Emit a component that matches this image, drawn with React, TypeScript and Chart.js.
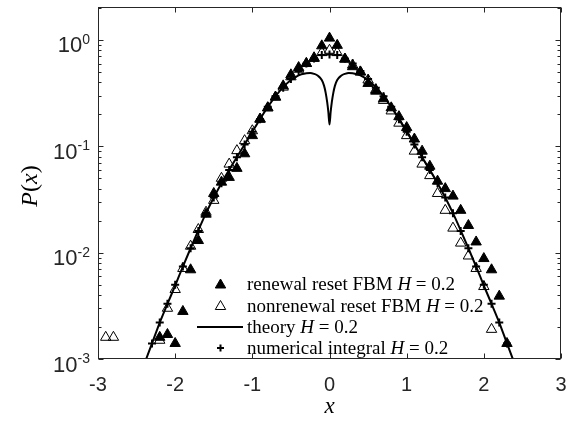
import React, { useEffect, useRef } from 'react';
import { Chart, registerables } from 'chart.js';

Chart.register(...registerables);

// ---- data ----
const renewalX = [-2.2, -2.1, -2.0, -1.9, -1.8, -1.7, -1.6, -1.5, -1.4, -1.3, -1.2, -1.1, -1.0, -0.9, -0.8, -0.7, -0.6, -0.5, -0.4, -0.3, -0.2, -0.1, 0, 0.1, 0.2, 0.3, 0.4, 0.5, 0.6, 0.7, 0.8, 0.9, 1.0, 1.1, 1.2, 1.3, 1.4, 1.5, 1.6, 1.7, 1.8, 1.9, 2.0, 2.1, 2.2, 2.3];
const renewalP = [0.0016, 0.0017, 0.0014, 0.0028, 0.0069, 0.013, 0.023, 0.036, 0.046, 0.051, 0.062, 0.085, 0.126, 0.18, 0.23, 0.29, 0.37, 0.47, 0.55, 0.6, 0.67, 0.88, 1.04, 0.89, 0.66, 0.56, 0.5, 0.39, 0.33, 0.28, 0.23, 0.19, 0.15, 0.117, 0.09, 0.065, 0.047, 0.04, 0.034, 0.025, 0.018, 0.0126, 0.0088, 0.0069, 0.0039, 0.0014];

const nonrenewalX = [-2.9, -2.8, -2.2, -2.1, -2.0, -1.9, -1.8, -1.7, -1.6, -1.5, -1.4, -1.3, -1.2, -1.1, -1.0, -0.9, -0.8, -0.7, -0.6, -0.5, -0.4, -0.3, -0.2, -0.1, 0, 0.1, 0.2, 0.3, 0.4, 0.5, 0.6, 0.7, 0.8, 0.9, 1.0, 1.1, 1.2, 1.3, 1.4, 1.5, 1.6, 1.7, 1.8, 1.9, 2.0, 2.1];
const nonrenewalP = [0.0016, 0.0016, 0.0015, 0.003, 0.0045, 0.0071, 0.0115, 0.0165, 0.024, 0.031, 0.05, 0.068, 0.091, 0.113, 0.14, 0.18, 0.23, 0.29, 0.36, 0.45, 0.53, 0.6, 0.68, 0.76, 0.8, 0.76, 0.66, 0.58, 0.5, 0.42, 0.34, 0.27, 0.215, 0.165, 0.126, 0.09, 0.068, 0.053, 0.036, 0.025, 0.017, 0.0123, 0.0093, 0.0071, 0.0048, 0.0019];

const theoryX = [-2.4, -2.3, -2.2, -2.1, -2.0, -1.9, -1.8, -1.7, -1.6, -1.5, -1.4, -1.3, -1.2, -1.1, -1.0, -0.9, -0.8, -0.7, -0.6, -0.5, -0.4, -0.3, -0.25, -0.2, -0.15, -0.1, -0.07, -0.05, -0.03, -0.015, 0, 0.015, 0.03, 0.05, 0.07, 0.1, 0.15, 0.2, 0.25, 0.3, 0.4, 0.5, 0.6, 0.7, 0.8, 0.9, 1.0, 1.1, 1.2, 1.3, 1.4, 1.5, 1.6, 1.7, 1.8, 1.9, 2.0, 2.1, 2.2, 2.3, 2.4];
const theoryP = [0.0009, 0.0014, 0.0022, 0.0033, 0.0049, 0.0074, 0.011, 0.0162, 0.0235, 0.033, 0.045, 0.06, 0.079, 0.104, 0.137, 0.18, 0.235, 0.295, 0.36, 0.42, 0.465, 0.485, 0.49, 0.48, 0.46, 0.42, 0.37, 0.32, 0.26, 0.21, 0.16, 0.21, 0.26, 0.32, 0.37, 0.42, 0.46, 0.48, 0.49, 0.485, 0.465, 0.42, 0.36, 0.295, 0.235, 0.18, 0.137, 0.104, 0.079, 0.06, 0.045, 0.033, 0.0235, 0.0162, 0.011, 0.0074, 0.0049, 0.0033, 0.0022, 0.0014, 0.0009];

const numericX = [-2.3, -2.2, -2.1, -2.0, -1.9, -1.8, -1.7, -1.6, -1.5, -1.4, -1.3, -1.2, -1.1, -1.0, -0.9, -0.8, -0.7, -0.6, -0.5, -0.4, -0.3, -0.2, -0.1, 0, 0.1, 0.2, 0.3, 0.4, 0.5, 0.6, 0.7, 0.8, 0.9, 1.0, 1.1, 1.2, 1.3, 1.4, 1.5, 1.6, 1.7, 1.8, 1.9, 2.0, 2.1, 2.2, 2.3];
const numericP = [0.0014, 0.0022, 0.0033, 0.005, 0.0074, 0.011, 0.016, 0.0235, 0.033, 0.045, 0.06, 0.079, 0.104, 0.137, 0.18, 0.235, 0.295, 0.355, 0.43, 0.51, 0.6, 0.67, 0.72, 0.73, 0.72, 0.67, 0.6, 0.51, 0.43, 0.355, 0.295, 0.235, 0.18, 0.137, 0.104, 0.079, 0.06, 0.045, 0.033, 0.0235, 0.016, 0.011, 0.0074, 0.005, 0.0033, 0.0022, 0.0014];

const xTicks = [-3, -2, -1, 0, 1, 2, 3];
const yDecades = [-3, -2, -1, 0];
const X_MIN = -3;
const X_MAX = 3;
const Y_MIN = 0.001;
const Y_MAX = 2.04;

const legendLabels = ['renewal reset FBM ', 'nonrenewal reset FBM ', 'theory ', 'numerical integral '];
const legendParam = 'H';
const legendValue = ' = 0.2';
const xTitle = 'x';

const SANS = '"Liberation Sans", Arial, sans-serif';
const SERIF = '"Liberation Serif", "Times New Roman", serif';
const AXIS = '#262626';

const pts = (xs: number[], ys: number[]) => xs.map((x, i) => ({ x, y: ys[i] }));

function tri(ctx: CanvasRenderingContext2D, x: number, y: number, r: number, filled: boolean) {
  ctx.beginPath();
  let a = 0;
  ctx.moveTo(x + Math.sin(a) * r, y - Math.cos(a) * r);
  a += (2 * Math.PI) / 3;
  ctx.lineTo(x + Math.sin(a) * r, y - Math.cos(a) * r);
  a += (2 * Math.PI) / 3;
  ctx.lineTo(x + Math.sin(a) * r, y - Math.cos(a) * r);
  ctx.closePath();
  if (filled) ctx.fill();
  ctx.stroke();
}

function runs(ctx: CanvasRenderingContext2D, x: number, y: number, parts: { t: string; f: string }[]) {
  let cx = x;
  for (const p of parts) {
    ctx.font = p.f;
    ctx.fillText(p.t, cx, y);
    cx += ctx.measureText(p.t).width;
  }
  return cx;
}

function widthOf(ctx: CanvasRenderingContext2D, parts: { t: string; f: string }[]) {
  let w = 0;
  for (const p of parts) {
    ctx.font = p.f;
    w += ctx.measureText(p.t).width;
  }
  return w;
}

const decor = {
  id: 'decor',
  afterDraw(chart: any) {
    const { ctx, chartArea: a, scales } = chart;
    const xs = scales.x;
    const ys = scales.y;
    ctx.save();
    ctx.strokeStyle = AXIS;
    ctx.fillStyle = AXIS;
    ctx.lineWidth = 1;
    const L = Math.round(a.left) + 0.5;
    const R = Math.round(a.right) - 0.5;
    const T = Math.round(a.top) + 0.5;
    const B = Math.round(a.bottom) - 0.5;
    ctx.strokeRect(L, T, R - L, B - T);

    // x ticks
    ctx.beginPath();
    for (const v of xTicks) {
      const px = Math.round(xs.getPixelForValue(v)) + 0.5;
      ctx.moveTo(px, B);
      ctx.lineTo(px, B - 5);
      ctx.moveTo(px, T);
      ctx.lineTo(px, T + 5);
    }
    // y ticks
    for (const k of yDecades) {
      for (let m = 1; m <= 9; m++) {
        const v = m * Math.pow(10, k);
        if (v > Y_MAX) continue;
        const py = Math.round(ys.getPixelForValue(v)) + 0.5;
        const len = m === 1 ? 5 : 3;
        ctx.moveTo(L, py);
        ctx.lineTo(L + len, py);
        ctx.moveTo(R, py);
        ctx.lineTo(R - len, py);
      }
    }
    ctx.stroke();

    // x tick labels
    ctx.font = `20px ${SANS}`;
    ctx.textAlign = 'center';
    ctx.textBaseline = 'alphabetic';
    for (const v of xTicks) {
      ctx.fillText(String(v), xs.getPixelForValue(v), 391);
    }

    // y tick labels 10^k
    ctx.textAlign = 'left';
    for (const k of yDecades) {
      const py = ys.getPixelForValue(Math.pow(10, k));
      const exp = String(k);
      ctx.font = `14px ${SANS}`;
      const ew = ctx.measureText(exp).width;
      ctx.font = `22px ${SANS}`;
      const bw = ctx.measureText('10').width;
      const right = 90;
      ctx.fillText('10', right - ew - bw, py + 12.5);
      ctx.font = `14px ${SANS}`;
      ctx.fillText(exp, right - ew, py + 4);
    }

    // x title
    ctx.fillStyle = '#000';
    ctx.textAlign = 'center';
    ctx.font = `italic 23px ${SERIF}`;
    ctx.fillText(xTitle, (a.left + a.right) / 2, 413);

    // y title P(x)
    ctx.save();
    ctx.translate(37, (a.top + a.bottom) / 2 + 3);
    ctx.rotate(-Math.PI / 2);
    ctx.textAlign = 'left';
    const yparts = [
      { t: 'P', f: `italic 24px ${SERIF}` },
      { t: '(', f: `24px ${SERIF}` },
      { t: 'x', f: `italic 24px ${SERIF}` },
      { t: ')', f: `24px ${SERIF}` },
    ];
    const yw = widthOf(ctx, yparts);
    runs(ctx, -yw / 2, 0, yparts);
    ctx.restore();

    // legend
    const rowsY = [290, 311.5, 333, 354];
    const mx = 220.5;
    ctx.textAlign = 'left';
    ctx.fillStyle = '#000';
    ctx.strokeStyle = '#000';
    legendLabels.forEach((lab, i) => {
      const by = rowsY[i];
      runs(ctx, 247, by, [
        { t: lab, f: `19px ${SERIF}` },
        { t: legendParam, f: `italic 19px ${SERIF}` },
        { t: legendValue, f: `19px ${SERIF}` },
      ]);
      const cy = by - 6;
      if (i === 0) {
        ctx.lineWidth = 1;
        tri(ctx, mx, cy + 1, 6, true);
      } else if (i === 1) {
        ctx.lineWidth = 1;
        tri(ctx, mx, cy + 1, 6, false);
      } else if (i === 2) {
        ctx.lineWidth = 2;
        ctx.beginPath();
        ctx.moveTo(197, cy);
        ctx.lineTo(243, cy);
        ctx.stroke();
      } else {
        ctx.lineWidth = 2;
        ctx.beginPath();
        ctx.moveTo(mx - 3.5, cy);
        ctx.lineTo(mx + 3.5, cy);
        ctx.moveTo(mx, cy - 3.5);
        ctx.lineTo(mx, cy + 3.5);
        ctx.stroke();
      }
    });
    ctx.restore();
  },
};

export default function App() {
  const ref = useRef<HTMLCanvasElement | null>(null);
  useEffect(() => {
    if (!ref.current) return;
    const chart = new Chart(ref.current, {
      type: 'scatter',
      data: {
        datasets: [
          {
            label: 'numerical integral H = 0.2',
            data: pts(numericX, numericP),
            pointStyle: 'cross',
            pointRadius: 4,
            borderColor: '#000',
            backgroundColor: '#000',
            borderWidth: 2,
            showLine: false,
          },
          {
            label: 'theory H = 0.2',
            data: pts(theoryX, theoryP),
            showLine: true,
            pointRadius: 0,
            borderColor: '#000',
            borderWidth: 2,
            cubicInterpolationMode: 'monotone',
          },
          {
            label: 'renewal reset FBM H = 0.2',
            data: pts(renewalX, renewalP),
            pointStyle: 'triangle',
            pointRadius: 6,
            borderColor: '#000',
            backgroundColor: '#000',
            borderWidth: 1,
            showLine: false,
          },
          {
            label: 'nonrenewal reset FBM H = 0.2',
            data: pts(nonrenewalX, nonrenewalP),
            pointStyle: 'triangle',
            pointRadius: 6,
            borderColor: '#000',
            backgroundColor: 'rgba(255,255,255,0)',
            borderWidth: 1,
            showLine: false,
          },
        ],
      } as any,
      options: {
        animation: false,
        responsive: false,
        layout: { padding: { left: 98, top: 6, right: 16, bottom: 64 } },
        plugins: { legend: { display: false }, tooltip: { enabled: false } },
        events: [],
        scales: {
          x: { type: 'linear', min: X_MIN, max: X_MAX, display: false },
          y: { type: 'logarithmic', min: Y_MIN, max: Y_MAX, display: false },
        },
      } as any,
      plugins: [decor],
    });
    return () => chart.destroy();
  }, []);
  return (
    <div style={{ position: 'fixed', left: 0, top: 0, width: 577, height: 423, background: '#fff' }}>
      <canvas ref={ref} width={577} height={423} style={{ display: 'block' }} />
    </div>
  );
}
